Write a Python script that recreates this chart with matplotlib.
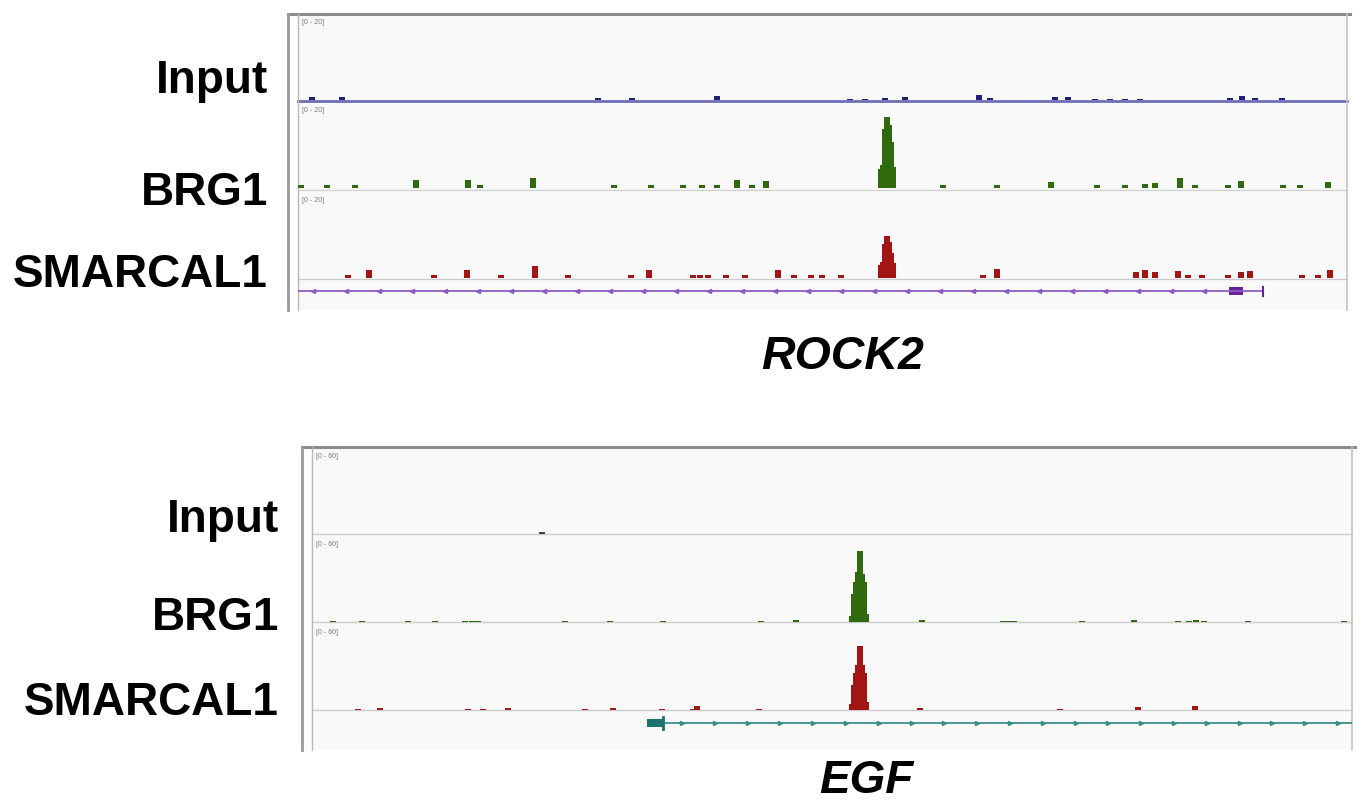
import matplotlib
matplotlib.use("Agg")
import matplotlib.pyplot as plt
from matplotlib.patches import Rectangle

plt.rcParams['font.family'] = ['Liberation Sans', 'DejaVu Sans']

W, H = 1365, 802

# colours of the tracks
c_input = '#1f1f78'
c_input_line = '#6e6eb8'
c_brg1 = '#2f6b0e'
c_smarc = '#a31515'

track_names = ['Input', 'BRG1', 'SMARCAL1']

# ---- ROCK2 locus, scale [0 - 20] ----
rock2_range = '[0 - 20]'
rock2_input_x = [14, 44, 300, 334, 419, 552, 567, 587, 607, 681, 692, 757, 770, 797, 812, 827, 842, 932, 944, 957, 984]
rock2_input_h = [0.6, 0.6, 0.4, 0.4, 0.9, 0.3, 0.3, 0.4, 0.8, 1.3, 0.4, 0.7, 0.8, 0.3, 0.3, 0.3, 0.3, 0.5, 0.9, 0.5, 0.4]

rock2_brg1_x = [3, 29, 57, 118, 170, 182, 235, 316, 353, 385, 404, 419, 439, 454, 468,
                583, 585, 587, 589, 591, 593, 595,
                645, 699, 753, 799, 827, 847, 857, 882, 897, 930, 943, 985, 1002, 1030]
rock2_brg1_h = [0.7, 0.7, 0.7, 1.9, 1.9, 0.7, 2.3, 0.7, 0.7, 0.7, 0.7, 0.7, 1.8, 0.7, 1.7,
                4.5, 5.5, 14.0, 17.0, 15.0, 11.0, 5.0,
                0.7, 0.7, 1.4, 0.7, 0.7, 0.9, 1.3, 2.3, 0.7, 0.7, 1.7, 0.7, 0.7, 1.4]

rock2_smarc_x = [50, 71, 136, 169, 203, 237, 270, 333, 351, 395, 402, 410, 428, 447, 480, 496, 513, 524, 543,
                 583, 585, 587, 589, 591, 593, 595,
                 685, 699, 838, 847, 857, 880, 890, 904, 930, 943, 952, 1004, 1020, 1032]
rock2_smarc_h = [0.7, 1.9, 0.7, 1.9, 0.7, 2.8, 0.7, 0.7, 1.9, 0.7, 0.7, 0.7, 0.7, 0.7, 1.8, 0.7, 0.7, 0.7, 0.7,
                 3.0, 3.8, 8.0, 10.0, 8.5, 6.0, 3.5,
                 0.7, 2.2, 1.5, 1.9, 1.4, 1.6, 0.7, 0.7, 0.7, 1.4, 1.6, 0.7, 0.7, 2.0]

rock2_gene_start, rock2_gene_end = 0, 965
rock2_exon = (931, 945)
rock2_arrows = list(range(15, 920, 33))

# ---- EGF locus, scale [0 - 60] ----
egf_range = '[0 - 60]'
egf_input_x = [230]
egf_input_h = [1.2]

egf_brg1_x = [21, 50, 96, 123, 153, 160, 166, 253, 298, 351, 449, 484,
              540, 542, 544, 546, 548, 550, 552, 554,
              610, 691, 697, 702, 770, 822, 866, 877, 884, 892, 936, 1032]
egf_brg1_h = [0.8, 0.8, 0.8, 0.8, 0.8, 0.8, 0.8, 0.8, 0.8, 0.8, 0.8, 1.5,
              4.0, 20.0, 28.0, 35.0, 50.0, 34.0, 28.0, 6.0,
              1.2, 0.8, 0.8, 0.8, 0.8, 1.2, 0.8, 0.8, 1.5, 0.8, 0.8, 0.8]

egf_smarc_x = [46, 68, 156, 171, 196, 273, 301, 350, 381, 385, 447,
               540, 542, 544, 546, 548, 550, 552, 554,
               608, 748, 826, 883]
egf_smarc_h = [0.8, 1.5, 0.8, 0.8, 1.5, 0.8, 1.5, 0.8, 0.8, 2.5, 0.8,
               4.0, 18.0, 26.0, 32.0, 45.0, 32.0, 26.0, 6.0,
               1.2, 0.8, 2.0, 2.5]

egf_gene_start, egf_gene_end = 351, 1040
egf_exon = (335, 351)
egf_arrows = [370 + 32.8 * k for k in range(21)]


def px_axes(fig, x0, y0, x1, y1):
    return fig.add_axes([x0 / W, 1 - y1 / H, (x1 - x0) / W, (y1 - y0) / H])


fig = plt.figure(figsize=(W / 100, H / 100), dpi=100)

# background layer in pixel coordinates for frames and labels
bg = fig.add_axes([0, 0, 1, 1])
bg.set_xlim(0, W)
bg.set_ylim(H, 0)
bg.axis('off')


def draw_panel(left, top, bottom, right, baselines, base_colors, base_widths):
    bg.add_patch(Rectangle((left + 10, top), right - left - 10, bottom - top,
                           fc='#f9f9f9', ec='none', zorder=0))
    bg.plot([left, right + 3], [top, top], color='#8c8c8c', lw=2.2, zorder=2)
    bg.plot([left, left], [top, bottom], color='#9a9a9a', lw=2.0, zorder=2)
    bg.plot([left + 10, left + 10], [top, bottom], color='#b8b8b8', lw=1.0, zorder=2)
    bg.plot([right, right], [top, bottom], color='#c4c4c4', lw=1.2, zorder=2)
    for yb, cb, lw in zip(baselines, base_colors, base_widths):
        bg.plot([left + 10, right], [yb, yb], color=cb, lw=lw, zorder=1)


def draw_track(x0, x1, y0, y1, xs, hs, color, ymax, xmax, rng):
    ax = px_axes(fig, x0, y0, x1, y1)
    ax.bar(xs, hs, width=5.5, color=color, align='center', linewidth=0)
    ax.set_xlim(0, xmax)
    ax.set_ylim(0, ymax)
    ax.axis('off')
    bg.text(x0 + 4, y0 + 7, rng, fontsize=5, color='#7a7a7a', va='center', ha='left')
    return ax


def draw_gene(x0, x1, y0, y1, xmax, start, end, exon, arrows, color, exon_color, arrow):
    ax = px_axes(fig, x0, y0, x1, y1)
    ax.set_xlim(0, xmax)
    ax.set_ylim(-1, 1)
    ax.plot([start, end], [0, 0], color=color, lw=1.3)
    ax.plot(arrows, [0] * len(arrows), linestyle='none', marker=arrow, ms=3,
            color=color, mec=color)
    ax.add_patch(Rectangle((exon[0], -0.38), exon[1] - exon[0], 0.76, fc=exon_color, ec='none'))
    ax.axis('off')
    return ax


# ROCK2 panel
draw_panel(288, 14, 310, 1347, [101, 190, 279], [c_input_line, '#d2d2d2', '#cccccc'], [2.0, 1.0, 1.0])
draw_track(298, 1347, 16, 100, rock2_input_x, rock2_input_h, c_input, 20, 1049, rock2_range)
draw_track(298, 1347, 104, 188, rock2_brg1_x, rock2_brg1_h, c_brg1, 20, 1049, rock2_range)
draw_track(298, 1347, 193, 278, rock2_smarc_x, rock2_smarc_h, c_smarc, 20, 1049, rock2_range)
g1 = draw_gene(298, 1347, 281, 301, 1049, rock2_gene_start, rock2_gene_end, rock2_exon,
               rock2_arrows, '#8a5cc4', '#6a1fa0', '<')
g1.plot([rock2_gene_end, rock2_gene_end], [-0.45, 0.45], color='#6a1fa0', lw=1.5)

for name, y in zip(track_names, [81, 193, 275]):
    bg.text(268, y, name, fontsize=33, fontweight='bold', ha='right', va='center')
bg.text(843, 357, 'ROCK2', fontsize=33.5, fontweight='bold', fontstyle='italic',
        ha='center', va='center')

# EGF panel
draw_panel(302, 447, 750, 1352, [534, 622, 710], ['#cccccc', '#cccccc', '#cccccc'], [1.0, 1.0, 1.0])
draw_track(312, 1352, 449, 534, egf_input_x, egf_input_h, '#444444', 60, 1040, egf_range)
draw_track(312, 1352, 537, 622, egf_brg1_x, egf_brg1_h, c_brg1, 60, 1040, egf_range)
draw_track(312, 1352, 625, 710, egf_smarc_x, egf_smarc_h, c_smarc, 60, 1040, egf_range)
g2 = draw_gene(312, 1352, 713, 733, 1040, egf_gene_start, egf_gene_end, egf_exon,
               egf_arrows, '#3a8f8c', '#1b7370', '>')
g2.plot([egf_exon[1], egf_exon[1]], [-0.6, 0.6], color='#1b7370', lw=2)

for name, y in zip(track_names, [520, 618, 703]):
    bg.text(279, y, name, fontsize=33, fontweight='bold', ha='right', va='center')
bg.text(866, 781, 'EGF', fontsize=33, fontweight='bold', fontstyle='italic',
        ha='center', va='center')

plt.savefig('out.png', dpi=100)
